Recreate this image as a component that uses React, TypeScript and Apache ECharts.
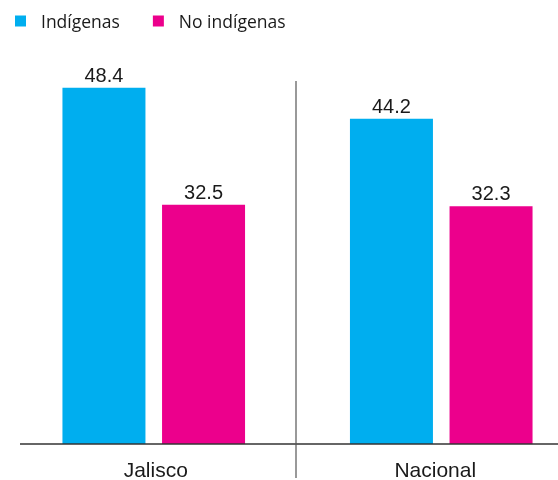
import React, { useEffect, useRef } from "react";
import * as echarts from "echarts";

const categories = ["Jalisco", "Nacional"];
const seriesNames = ["Indígenas", "No indígenas"];
const indigenas = [48.4, 44.2];
const noIndigenas = [32.5, 32.3];
const colors = ["#00AEEF", "#EC008C"];

export default function App() {
  const ref = useRef<HTMLDivElement>(null);
  useEffect(() => {
    if (!ref.current) return;
    const chart = echarts.init(ref.current, undefined, { renderer: "svg" });
    const labelStyle = {
      show: true,
      position: "top",
      distance: 3,
      fontFamily: "Liberation Sans, Arial, sans-serif",
      fontSize: 20,
      color: "#1a1a1a",
      formatter: (p: any) => p.value.toFixed(1),
    };
    const catFont = { fontFamily: "Liberation Sans, Arial, sans-serif", fontSize: 21, color: "#1a1a1a" };
    chart.setOption({
      animation: false,
      legend: {
        left: 10,
        top: 7,
        itemWidth: 11,
        itemHeight: 11,
        itemGap: 33,
        icon: "rect",
        data: seriesNames,
        textStyle: {
          fontFamily: "Open Sans, sans-serif",
          fontSize: 17.5,
          color: "#1a1a1a",
          padding: [0, 0, 0, 10],
        },
      },
      grid: { left: 10, right: 15, top: 76, bottom: 36 },
      xAxis: {
        type: "category",
        data: categories,
        axisLine: { show: false },
        axisTick: { show: false },
        axisLabel: {
          margin: 15,
          ...catFont,
          formatter: (v: string) => (v === "Jalisco" ? "{a|" + v + "}" : "{b|" + v + "}"),
          rich: {
            a: { ...catFont, padding: [0, 0, 0, 4] },
            b: { ...catFont, padding: [0, 12, 0, 0] },
          },
        },
      },
      yAxis: {
        type: "value",
        min: 0,
        max: 50,
        show: false,
        splitLine: { show: false },
      },
      series: [
        {
          name: seriesNames[0],
          type: "bar",
          data: indigenas,
          barWidth: 83,
          barGap: "20%",
          itemStyle: { color: colors[0] },
          label: labelStyle,
        },
        {
          name: seriesNames[1],
          type: "bar",
          data: noIndigenas,
          barWidth: 83,
          itemStyle: { color: colors[1] },
          label: labelStyle,
        },
      ],
      graphic: [
        {
          type: "line",
          shape: { x1: 20, y1: 444, x2: 558, y2: 444 },
          style: { stroke: "#333", lineWidth: 1.5 },
          z: 10,
        },
        {
          type: "line",
          shape: { x1: 296, y1: 81, x2: 296, y2: 478 },
          style: { stroke: "#555", lineWidth: 1.2 },
          z: 10,
        },
      ],
    });
    return () => chart.dispose();
  }, []);
  return (
    <div style={{ position: "fixed", left: 0, top: 0, width: 558, height: 480, overflow: "hidden" }}>
      <div ref={ref} style={{ width: 600, height: 480 }} />
    </div>
  );
}
